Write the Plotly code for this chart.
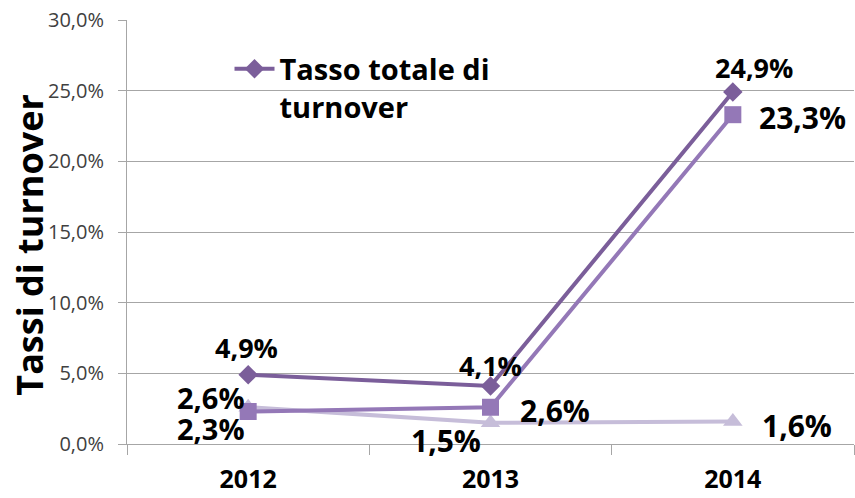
import plotly.graph_objects as go

# Turnover rates by year (percent)
years = ["2012", "2013", "2014"]
tasso_totale = [4.9, 4.1, 24.9]
tasso_serie2 = [2.3, 2.6, 23.3]
tasso_serie3 = [2.6, 1.5, 1.6]

series_names = ["Tasso totale di<br>turnover", "Tasso in entrata", "Tasso in uscita"]

y_ticks = [0, 5, 10, 15, 20, 25, 30]
y_tick_labels = ["0,0%", "5,0%", "10,0%", "15,0%", "20,0%", "25,0%", "30,0%"]

FONT = "Open Sans"
GRID = "#A6A6A6"


def pct(v):
    return f"{v:.1f}".replace(".", ",") + "%"


fig = go.Figure()

fig.add_trace(go.Scatter(
    x=years, y=tasso_serie3, name=series_names[2], mode="lines+markers",
    line=dict(color="#C6BDD9", width=4),
    marker=dict(symbol="triangle-up", size=17, color="#C6BDD9"),
    showlegend=False,
))
fig.add_trace(go.Scatter(
    x=years, y=tasso_serie2, name=series_names[1], mode="lines+markers",
    line=dict(color="#9478B7", width=4),
    marker=dict(symbol="square", size=17, color="#9478B7"),
    showlegend=False,
))
fig.add_trace(go.Scatter(
    x=years, y=tasso_totale, name=series_names[0], mode="lines+markers",
    line=dict(color="#7B5E9A", width=4),
    marker=dict(symbol="diamond", size=15, color="#7B5E9A"),
    showlegend=True,
))

# Data labels: (series, index, font size, xanchor, yanchor, xshift, yshift)
label_specs = [
    (tasso_totale, 0, 27, "center", "middle", -2, 27),
    (tasso_totale, 1, 27, "center", "middle", 0, 21),
    (tasso_totale, 2, 27, "center", "middle", 21, 25),
    (tasso_serie2, 0, 29, "right", "middle", -1, -17),
    (tasso_serie2, 1, 30, "left", "middle", 27, -3),
    (tasso_serie2, 2, 30, "left", "middle", 24, -3),
    (tasso_serie3, 0, 29, "right", "middle", -1, 10),
    (tasso_serie3, 1, 30, "right", "middle", -8, -18),
    (tasso_serie3, 2, 30, "left", "middle", 27, -4),
]
for series, i, size, xa, ya, xs, ys in label_specs:
    fig.add_annotation(
        x=i, y=series[i], text=f"<b>{pct(series[i])}</b>",
        showarrow=False, xanchor=xa, yanchor=ya, xshift=xs, yshift=ys,
        font=dict(family=FONT, size=size, color="#000000"),
    )

# Vertical axis title
fig.add_annotation(
    xref="paper", yref="paper", x=0, y=0.47, xshift=-97,
    xanchor="center", yanchor="middle",
    text="<b>Tassi di turnover</b>", textangle=-90, showarrow=False,
    font=dict(family=FONT, size=36, color="#000000"),
)

fig.update_layout(
    width=855, height=498,
    margin=dict(l=127, r=1, t=20, b=54),
    paper_bgcolor="white", plot_bgcolor="white",
    font=dict(family=FONT),
    legend=dict(
        x=0.141, y=0.945, xanchor="left", yanchor="top",
        bgcolor="rgba(0,0,0,0)", valign="top",
        font=dict(family=FONT, size=29, color="#000000", weight="bold"),
        itemwidth=40,
    ),
    xaxis=dict(
        type="category", range=[-0.5, 2.5], automargin=False,
        showgrid=False, showline=True, linecolor=GRID, linewidth=1,
        ticks="outside", tickson="boundaries", ticklen=10, tickcolor=GRID,
        tickfont=dict(family=FONT, size=25, color="#000000", weight="bold"),
        ticklabelstandoff=13,
    ),
    yaxis=dict(
        range=[0, 30], tickvals=y_ticks, ticktext=y_tick_labels,
        automargin=False,
        showgrid=True, gridcolor=GRID, gridwidth=1,
        showline=True, linecolor=GRID, linewidth=1,
        ticks="outside", ticklen=8, tickcolor=GRID,
        tickfont=dict(family=FONT, size=20, color="#404040"),
        ticklabelstandoff=10, zeroline=False,
    ),
)

fig.write_html("out.html")
